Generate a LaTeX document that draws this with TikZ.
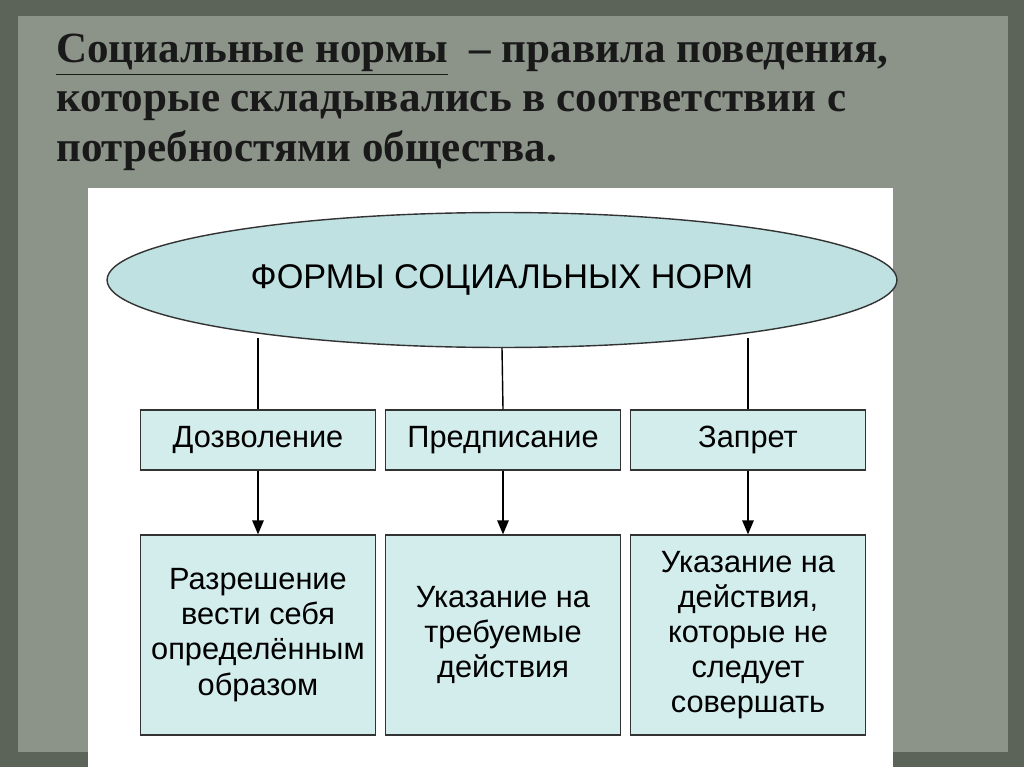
\documentclass[tikz,border=0pt]{standalone}
\usepackage{fontspec}
\setmainfont{Liberation Serif}
\newfontfamily\diagfont{Liberation Sans}
\usetikzlibrary{shapes.geometric, arrows, positioning}
\definecolor{bgdark}{HTML}{5C6459}
\definecolor{bgpanel}{HTML}{8C9389}
\definecolor{ovalfill}{HTML}{BFE1E2}
\definecolor{boxfill}{HTML}{D3ECEC}
\begin{document}
\begin{tikzpicture}[x=0.02cm, y=-0.02cm, >=latex']
    \tikzstyle{kind} = [rectangle, minimum width=4.7cm, minimum height=1.2cm, text centered, draw=black!80, thick, fill=boxfill, font=\diagfont\fontsize{17.5}{20}\selectfont]
    \tikzstyle{meaning} = [rectangle, minimum width=4.7cm, minimum height=4cm, text centered, align=center, draw=black!80, thick, fill=boxfill, font=\diagfont\fontsize{17.5}{20}\selectfont]
    \tikzstyle{arrow} = [thick,->,>=triangle 45]

    % background
    \fill[bgdark] (0,0) rectangle (1024,767);
    \fill[bgpanel] (18,16) rectangle (1008,752);
    \useasboundingbox (0,0) rectangle (1024,767);

    \node (title) [anchor=north west, align=left, text=black!90, font=\bfseries\fontsize{24.5}{28}\selectfont] at (50,28)
        {\underline{Социальные нормы}~~-- правила поведения,\\которые складывались в соответствии с\\потребностями общества.};

    \fill[white] (88,188) rectangle (893,767);

    \node (forms) [ellipse, draw=black!80, thick, fill=ovalfill, minimum width=15.8cm, minimum height=2.7cm, font=\diagfont\fontsize{19.5}{22}\selectfont] at (502,280) {ФОРМЫ СОЦИАЛЬНЫХ НОРМ};

    \node (allow) [kind] at (258,440) {Дозволение};
    \node (order) [kind] at (503,440) {Предписание};
    \node (ban) [kind] at (748,440) {Запрет};

    \node (allowtext) [meaning] at (258,635) {Разрешение\\вести себя\\определённым\\образом};
    \node (ordertext) [meaning] at (503,635) {Указание на\\требуемые\\действия};
    \node (bantext) [meaning] at (748,635) {Указание на\\действия,\\которые не\\следует\\совершать};

    \draw [thick] (forms.south -| allow.north) ++(0,-10) -- (allow.north);
    \draw [thick] (forms.south) -- (order.north);
    \draw [thick] (forms.south -| ban.north) ++(0,-10) -- (ban.north);

    \draw [arrow] (allow) -- (allowtext);
    \draw [arrow] (order) -- (ordertext);
    \draw [arrow] (ban) -- (bantext);
\end{tikzpicture}
\end{document}
